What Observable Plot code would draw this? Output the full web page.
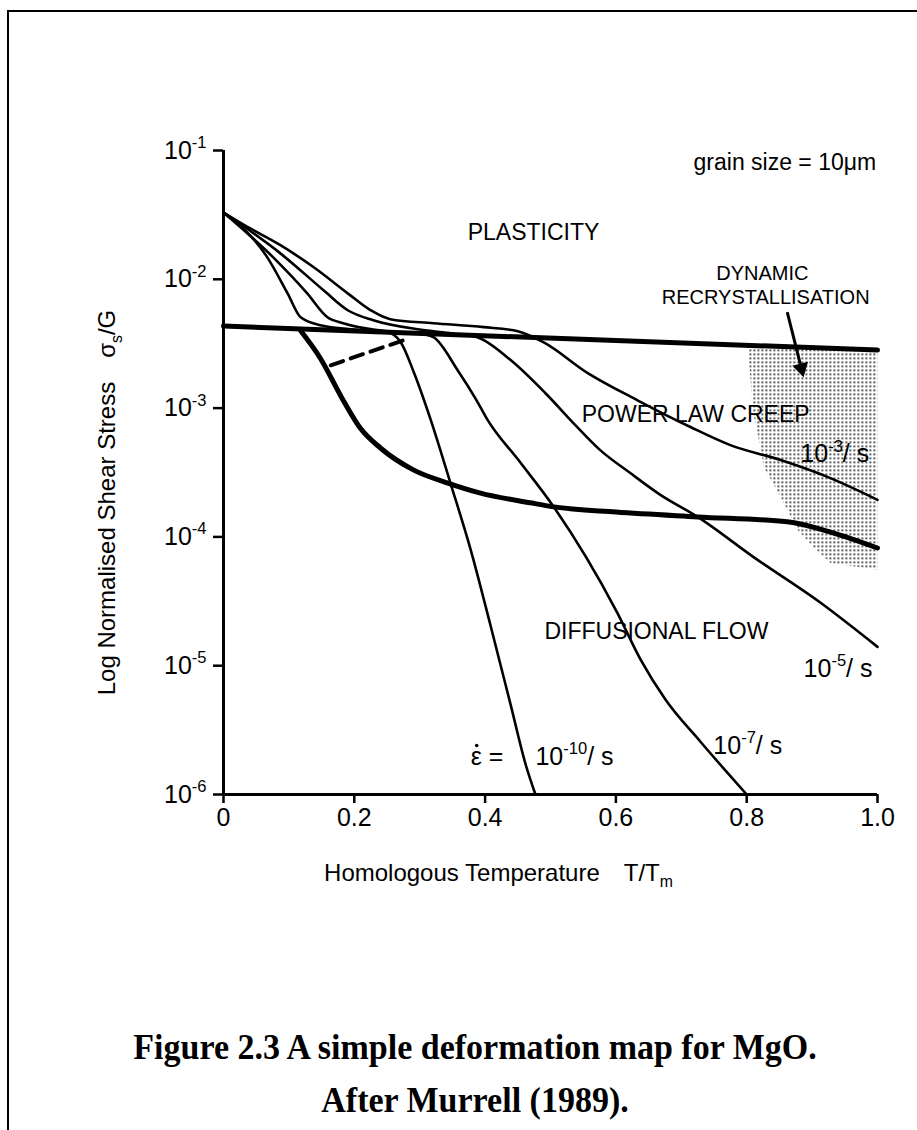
<!DOCTYPE html>
<html><head><meta charset="utf-8">
<script src="https://cdn.jsdelivr.net/npm/d3@7"></script>
<script src="https://cdn.jsdelivr.net/npm/@observablehq/plot@0.6"></script>
<style>
html,body{margin:0;padding:0;background:#fff;}
body{width:917px;height:1130px;position:relative;overflow:hidden;font-family:"Liberation Sans",Arial,sans-serif;}
#frame{position:absolute;left:7px;top:10px;width:960px;height:1200px;border-left:2px solid #000;border-top:2px solid #000;}
#chart{position:absolute;left:0;top:0;}
.cap{position:absolute;left:0;width:950px;text-align:center;font-family:"Liberation Serif","Times New Roman",serif;font-weight:bold;font-size:34px;line-height:38px;color:#000;transform:scaleY(1.08);}
</style></head><body>
<div id="frame"></div>
<div id="chart"></div>
<div class="cap" style="top:1028px">Figure 2.3 A simple deformation map for MgO.</div>
<div class="cap" style="top:1081px">After Murrell (1989).</div>
<script>
// ---- data (homologous temperature T/Tm, normalised shear stress) ----
const yieldT = [0, 1.0];
const yieldS = [4.33e-3, 2.82e-3];

const boundaryT = [0.118, 0.148, 0.183, 0.209, 0.240, 0.291, 0.343, 0.393, 0.469, 0.505, 0.600, 0.725, 0.862, 0.928, 1.0];
const boundaryS = [3.98e-3, 2.44e-3, 1.15e-3, 7.0e-4, 4.9e-4, 3.3e-4, 2.62e-4, 2.19e-4, 1.84e-4, 1.71e-4, 1.56e-4, 1.43e-4, 1.31e-4, 1.09e-4, 8.2e-5];

const rate3T = [0, 0.041, 0.087, 0.138, 0.190, 0.225, 0.255, 0.321, 0.398, 0.450, 0.489, 0.557, 0.633, 0.714, 0.775, 0.852, 0.928, 1.0];
const rate3S = [0.0330, 0.0248, 0.0184, 0.0124, 0.00778, 0.00575, 0.0049, 0.00456, 0.00425, 0.00395, 0.00325, 0.00187, 0.00115, 0.000713, 0.000516, 0.000395, 0.000286, 0.000194];

const rate5T = [0, 0.087, 0.153, 0.190, 0.229, 0.30, 0.35, 0.388, 0.439, 0.492, 0.538, 0.576, 0.622, 0.668, 0.725, 0.810, 0.913, 1.0];
const rate5S = [0.0330, 0.0159, 0.00822, 0.00575, 0.00481, 0.00407, 0.0038, 0.00355, 0.00236, 0.00131, 0.000738, 0.000472, 0.000313, 0.000212, 0.000143, 0.0000700, 0.0000308, 0.0000140];

const rate7T = [0, 0.076, 0.128, 0.159, 0.183, 0.25, 0.30, 0.321, 0.358, 0.387, 0.404, 0.451, 0.505, 0.602, 0.638, 0.676, 0.729, 0.80];
const rate7S = [0.0330, 0.0148, 0.00778, 0.00507, 0.00456, 0.00394, 0.0038, 0.00355, 0.00197, 0.00115, 0.000807, 0.000395, 0.000171, 0.0000258, 0.0000111, 0.00000544, 0.00000258, 0.0000010];

const rate10T = [0, 0.067, 0.098, 0.118, 0.148, 0.20, 0.25, 0.271, 0.291, 0.317, 0.347, 0.378, 0.408, 0.439, 0.462, 0.477];
const rate10S = [0.0330, 0.0148, 0.00778, 0.00507, 0.0044, 0.00407, 0.0039, 0.00325, 0.0019, 0.000807, 0.000262, 0.0000793, 0.0000208, 0.00000499, 0.00000171, 0.0000010];

const dashedT = [0.164, 0.275];
const dashedS = [0.00215, 0.00336];

const recrystT = [0.801, 0.806, 0.810, 0.821, 0.826, 0.852, 0.878, 0.902, 0.928, 1.0, 1.0];
const recrystS = [0.00307, 0.00165, 0.000914, 0.000499, 0.000349, 0.000204, 0.000113, 0.0000836, 0.0000628, 0.0000555, 0.00282];

const xTicks = [0, 0.2, 0.4, 0.6, 0.8, 1.0];
const yTicks = [1e-1, 1e-2, 1e-3, 1e-4, 1e-5, 1e-6];

const regionLabels = ["PLASTICITY", "POWER LAW CREEP", "DIFFUSIONAL FLOW"];
const regionT = [0.474, 0.722, 0.662];
const regionS = [0.0231, 0.000883, 0.0000184];

const grainLabel = "grain size = 10μm";
const grainT = 0.998;
const grainS = 0.0807;

const rateLabels = ["10^{-3}/ s", "10^{-5}/ s", "10^{-7}/ s", "10^{-10}/ s", "ε ="];
const rateLabelT = [0.882, 0.887, 0.749, 0.477, 0.378];
const rateLabelS = [0.000440, 0.00000948, 0.00000240, 0.00000197, 0.00000194];

const drLabels = ["DYNAMIC", "RECRYSTALLISATION"];
const drT = [0.824, 0.829];
const drS = [0.01114, 0.00724];

// arrow: tail, head (triangle centre)
const arrowT = [0.862, 0.8835];
const arrowS = [0.00555, 0.00204];

// ---- build tables ----
const zip = (xs, ys, extra = {}) => xs.map((x, i) => ({x, y: ys[i], ...extra}));
const curves = [
  ...zip(rate3T, rate3S, {k: "1e-3"}),
  ...zip(rate5T, rate5S, {k: "1e-5"}),
  ...zip(rate7T, rate7S, {k: "1e-7"}),
  ...zip(rate10T, rate10S, {k: "1e-10"})
];
const regions = regionLabels.map((t, i) => ({t, x: regionT[i], y: regionS[i]}));
const rates = rateLabels.map((t, i) => ({t, x: rateLabelT[i], y: rateLabelS[i]}));
const dr = drLabels.map((t, i) => ({t, x: drT[i], y: drS[i]}));
const arrowAngle = 166;

const FONT = '"Liberation Sans", Arial, Helvetica, sans-serif';

const plot = Plot.plot({
  width: 917,
  height: 900,
  marginLeft: 223,
  marginRight: 40,
  marginTop: 150,
  marginBottom: 106,
  style: {fontFamily: FONT, fontSize: "24px", color: "#000", background: "transparent", overflow: "visible"},
  x: {domain: [0, 1]},
  y: {type: "log", domain: [1e-6, 1e-1]},
  marks: [
    Plot.line(zip(recrystT, recrystS), {x: "x", y: "y", fill: "url(#dots)", stroke: "none"}),
    Plot.ruleX([0], {strokeWidth: 3}),
    Plot.ruleY([1e-6], {strokeWidth: 3}),
    Plot.axisY({ticks: yTicks, tickFormat: d => `10^{${Math.round(Math.log10(d))}}`, tickSize: 10, tickPadding: 7, fontSize: 25, strokeWidth: 2.5, label: null}),
    Plot.axisX({ticks: xTicks, tickFormat: d => d === 0 ? "0" : d.toFixed(1), tickSize: 9, tickPadding: 5, fontSize: 25, strokeWidth: 2.5, label: null}),
    Plot.line(zip(yieldT, yieldS), {x: "x", y: "y", strokeWidth: 5}),
    Plot.line(zip(boundaryT, boundaryS), {x: "x", y: "y", strokeWidth: 5, curve: "monotone-x", strokeLinejoin: "round"}),
    Plot.line(curves, {x: "x", y: "y", z: "k", strokeWidth: 2.6, curve: "monotone-x", strokeLinejoin: "round"}),
    Plot.line(zip(dashedT, dashedS), {x: "x", y: "y", strokeWidth: 4, strokeDasharray: "13,8"}),
    Plot.link([{x1: arrowT[0], y1: arrowS[0], x2: arrowT[1], y2: arrowS[1]}], {x1: "x1", y1: "y1", x2: "x2", y2: "y2", strokeWidth: 3}),
    Plot.dot([{x: arrowT[1], y: arrowS[1]}], {x: "x", y: "y", symbol: "triangle", r: 6, fill: "#000", stroke: "none", rotate: arrowAngle}),
    Plot.text(regions, {x: "x", y: "y", text: "t", fontSize: 23, textAnchor: "middle"}),
    Plot.text([grainLabel], {x: () => grainT, y: () => grainS, text: d => d, fontSize: 23, textAnchor: "end"}),
    Plot.text(dr, {x: "x", y: "y", text: "t", fontSize: 20, textAnchor: "middle"}),
    Plot.text(rates, {x: "x", y: "y", text: "t", fontSize: 25, textAnchor: "start"}),
    // dot over the epsilon (strain-rate symbol)
    Plot.dot([0], {x: () => rateLabelT[4], y: () => rateLabelS[4], r: 1.8, fill: "#000", stroke: "none", dx: 6, dy: -12}),
    Plot.text(["Log Normalised Shear Stress\u2002\u2002σ_{s}/G"], {text: d => d, frameAnchor: "left", textAnchor: "middle", dx: -116, dy: 30, rotate: -90, fontSize: 24}),
    Plot.text(["Homologous Temperature\u2002\u2002T/T_{m}"], {text: d => d, frameAnchor: "bottom", textAnchor: "middle", dx: -52, dy: 86, fontSize: 24})
  ]
});
document.getElementById("chart").appendChild(plot);

// stipple pattern for the dynamic recrystallisation field
const svg = d3.select(plot);
const defs = svg.insert("defs", ":first-child");
const pat = defs.append("pattern").attr("id", "dots").attr("patternUnits", "userSpaceOnUse").attr("width", 4).attr("height", 4);
pat.append("rect").attr("x", 1).attr("y", 1).attr("width", 1.6).attr("height", 1.6).attr("fill", "#000");

// superscripts / subscripts in text
function rich(root) {
  for (const el of root.querySelectorAll("text")) {
    const s = el.textContent;
    if (!/[\^_]\{/.test(s)) continue;
    const fs = parseFloat(getComputedStyle(el).fontSize) || 24;
    while (el.firstChild) el.removeChild(el.firstChild);
    const re = /([\^_])\{([^}]*)\}/g;
    let last = 0, m, shift = 0;
    const add = (txt, dy, size) => {
      const t = document.createElementNS("http://www.w3.org/2000/svg", "tspan");
      t.textContent = txt;
      if (dy) t.setAttribute("dy", dy);
      if (size) t.setAttribute("font-size", size);
      el.appendChild(t);
    };
    while ((m = re.exec(s))) {
      if (m.index > last) { add(s.slice(last, m.index), shift ? -shift : null); shift = 0; }
      const d = m[1] === "^" ? -0.42 * fs : 0.28 * fs;
      add(m[2], d - shift, 0.66 * fs);
      shift = d;
      last = re.lastIndex;
    }
    if (last < s.length) add(s.slice(last), shift ? -shift : null);
  }
}
rich(plot);
</script>
</body></html>
